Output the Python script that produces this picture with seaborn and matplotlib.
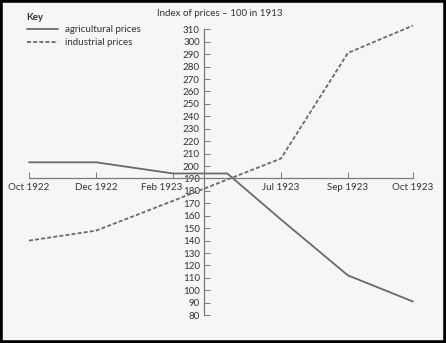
import matplotlib
matplotlib.use("Agg")
import matplotlib.pyplot as plt
import matplotlib.transforms as mtransforms
import seaborn as sns
import pandas as pd
from matplotlib.patches import Rectangle
from matplotlib.lines import Line2D

# ---- data ----
months = ["Oct 1922", "Dec 1922", "Feb 1923", "Jul 1923", "Sep 1923", "Oct 1923"]
agri_months = ["Oct 1922", "Dec 1922", "Feb 1923", "Mar 1923", "Jul 1923", "Sep 1923", "Oct 1923"]
agricultural = [203, 203, 194, 194, 157, 112, 91]
industrial = [140, 148, 172, 206, 291, 313]
yticks = list(range(80, 311, 10))

# ---- layout (x positions of months on the drawn axis) ----
month_pos = {"Oct 1922": 0.0, "Dec 1922": 1.0, "Feb 1923": 2.15, "Mar 1923": 2.96,
             "Jul 1923": 3.76, "Sep 1923": 4.76, "Oct 1923": 5.73}
yaxis_x = 2.61

df = pd.concat([
    pd.DataFrame({"month": agri_months, "value": agricultural, "series": "agricultural prices"}),
    pd.DataFrame({"month": months, "value": industrial, "series": "industrial prices"}),
])
df["x"] = df["month"].map(month_pos)

sns.set_theme(style="white")
plt.rcParams["font.family"] = ["Lato", "DejaVu Sans"]

bg = "#f6f6f4"
line_c = "#6a6a6a"
axis_c = "#7a7a7a"
text_c = "#333333"
fs = 7

fig = plt.figure(figsize=(4.46, 3.43), dpi=100, facecolor=bg)
ax = fig.add_axes([0, 0, 1, 1])
ax.set_facecolor(bg)

sns.lineplot(data=df, x="x", y="value", hue="series", style="series",
             palette={"agricultural prices": line_c, "industrial prices": line_c},
             dashes={"agricultural prices": "", "industrial prices": (2.2, 1.2)},
             linewidth=1.3, legend=False, ax=ax, sort=False)

ax.set_xlim(-0.433, 6.224)
ax.set_ylim(57.6, 333.6)

for s in ["top", "right"]:
    ax.spines[s].set_visible(False)
ax.spines["left"].set_position(("data", yaxis_x))
ax.spines["left"].set_bounds(80, 310)
ax.spines["bottom"].set_position(("data", 190))
ax.spines["bottom"].set_bounds(0, month_pos["Oct 1923"])
for s in ["left", "bottom"]:
    ax.spines[s].set_color(axis_c)
    ax.spines[s].set_linewidth(0.9)

ax.set_yticks(yticks)
ax.set_yticklabels([str(v) for v in yticks])
ax.set_xticks([month_pos[m] for m in months])
ax.set_xticklabels(months)
ax.tick_params(axis="y", direction="in", length=4, width=0.7, color=axis_c,
               labelsize=fs, labelcolor=text_c, pad=3, left=True)
ax.tick_params(axis="x", direction="in", length=4, width=0.7, color=axis_c,
               labelsize=fs, labelcolor=text_c, pad=3, bottom=True)
ax.set_xlabel("")
ax.set_ylabel("")

# shift the Feb 1923 label left so it clears the y axis labels
feb_lbl = ax.get_xticklabels()[months.index("Feb 1923")]
feb_lbl.set_transform(feb_lbl.get_transform() +
                      mtransforms.ScaledTranslation(-11 / 100, 0, fig.dpi_scale_trans))

fig.text(220 / 446, 1 - 14 / 343, "Index of prices – 100 in 1913", ha="center", va="center",
         fontsize=fs, color=text_c)

# Key
fig.text(26 / 446, 1 - 17 / 343, "Key", ha="left", va="center", fontsize=fs,
         fontweight="bold", color=text_c)
handles = [Line2D([], [], color=line_c, lw=1.3),
           Line2D([], [], color=line_c, lw=1.3, dashes=(2.2, 1.2))]
leg = fig.legend(handles, ["agricultural prices", "industrial prices"],
                 loc="upper left", bbox_to_anchor=(25 / 446, 1 - 23 / 343),
                 frameon=False, fontsize=fs, handlelength=3.2, handletextpad=0.7,
                 labelspacing=0.45, borderpad=0.2, borderaxespad=0)
for t in leg.get_texts():
    t.set_color(text_c)

fig.patches.append(Rectangle((0, 0), 1, 1, transform=fig.transFigure, fill=False,
                             edgecolor="black", linewidth=4, zorder=10))

fig.savefig("out.png", dpi=100, facecolor=bg)
